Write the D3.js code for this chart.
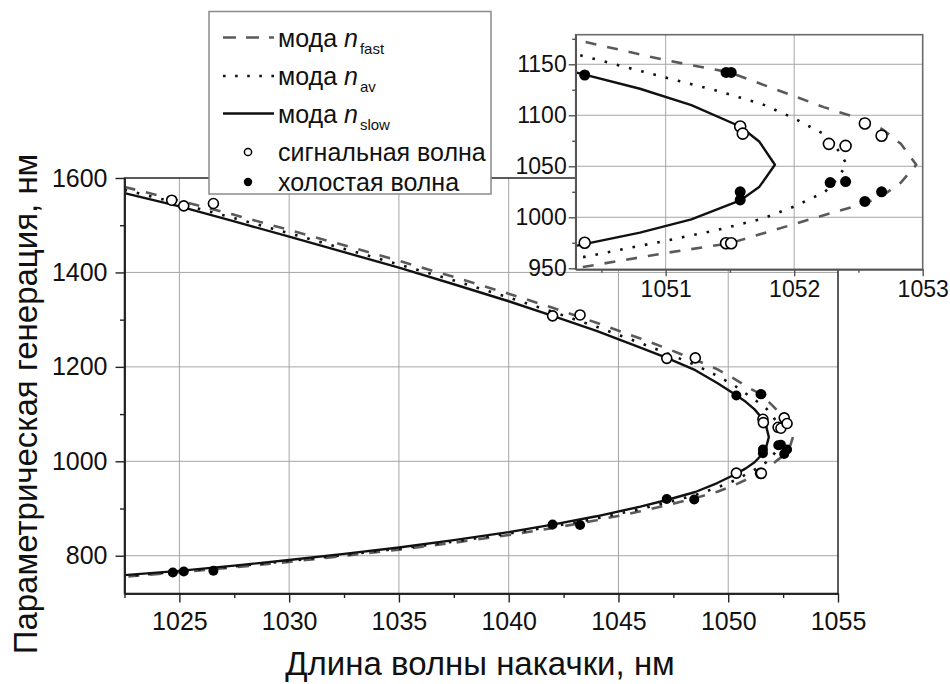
<!DOCTYPE html>
<html>
<head>
<meta charset="utf-8">
<script src="https://cdn.jsdelivr.net/npm/d3@7"></script>
<style>
  body { margin: 0; background: #fff; }
  svg { display: block; font-family: Arial, "Liberation Sans", sans-serif; }
</style>
</head>
<body>
<div id="chart"></div>
<script>
// Pump wavelength (nm) and generated wavelengths (nm)
var slowPump  = [1022.5, 1025, 1027.5, 1030, 1032.5, 1035, 1037.5, 1040, 1042, 1044, 1046, 1047.2, 1048.5, 1049.5, 1050.3, 1050.8, 1051.2, 1051.58, 1051.73];
var slowUpper = [1568, 1540, 1508, 1476, 1443, 1410, 1375, 1339, 1308, 1276, 1241, 1219, 1193, 1166, 1142, 1126, 1110, 1089, 1074];
var slowLower = [759, 768, 779, 791, 804, 817.5, 833, 850, 866, 883.5, 904, 918, 935, 954, 972, 985, 998, 1016.5, 1030];
var slowNose  = [1051.85, 1051.5];

var avPump  = [1022.5, 1025, 1027.5, 1030, 1032.5, 1035, 1037.5, 1040, 1042, 1044, 1046, 1047.2, 1048.5, 1049.5, 1050.3, 1051.0, 1051.4, 1051.75, 1052.0, 1052.24, 1052.33];
var avUpper = [1575, 1546, 1515, 1483, 1450, 1417, 1383, 1347, 1316.5, 1285, 1250.5, 1229, 1204, 1181, 1160, 1137, 1124, 1111, 1097, 1081, 1068];
var avLower = [757, 766.5, 777.5, 789, 801.5, 815, 830, 847, 862, 879, 899, 912.5, 928.5, 944.5, 959.5, 977, 987.5, 998.5, 1010.5, 1025, 1037];
var avNose  = [1052.41, 1052];

var fastPump  = [1022.5, 1025, 1027.5, 1030, 1032.5, 1035, 1037.5, 1040, 1042, 1044, 1046, 1047.2, 1048.5, 1049.5, 1050.3, 1051.0, 1051.5, 1052.23, 1052.55, 1052.69, 1052.83];
var fastUpper = [1581, 1552, 1522, 1490, 1457.5, 1424.5, 1390.5, 1355, 1325, 1293.5, 1260, 1239, 1215, 1195, 1174, 1154, 1142, 1108, 1095, 1086, 1072];
var fastLower = [755.5, 765, 775.5, 787, 799.5, 813, 827.5, 844, 858.5, 875, 894, 907, 922, 935.5, 950, 965, 974.5, 1002, 1013.5, 1021.5, 1034];
var fastNose  = [1052.95, 1051.5];

// measured points
var signalPump = [1024.65, 1025.2, 1026.55, 1042.0, 1043.25, 1047.2, 1048.5, 1050.37, 1051.47, 1051.51, 1051.58, 1051.6, 1052.27, 1052.4, 1052.55, 1052.68];
var signalWave = [1553, 1541, 1546, 1308, 1310, 1218, 1219, 975, 974.5, 974.5, 1089, 1082, 1072, 1070, 1092, 1080];
var idlerPump  = [1024.7, 1025.2, 1026.55, 1042.0, 1043.25, 1047.2, 1048.45, 1050.37, 1051.47, 1051.51, 1051.58, 1051.58, 1052.28, 1052.4, 1052.55, 1052.68];
var idlerWave  = [764.5, 766.5, 768, 866, 865, 920, 919, 1139.5, 1142, 1142, 1025, 1017, 1034, 1035, 1015.5, 1025];

// ticks
var mainXTicks = [1025, 1030, 1035, 1040, 1045, 1050, 1055];
var mainXMinor = [1022.5, 1027.5, 1032.5, 1037.5, 1042.5, 1047.5, 1052.5];
var mainYTicks = [800, 1000, 1200, 1400, 1600];
var mainYMinor = [900, 1100, 1300, 1500];
var insetXTicks = [1051, 1052, 1053];
var insetXMinor = [1050.5, 1051.5, 1052.5];
var insetYTicks = [950, 1000, 1050, 1100, 1150];
var insetYMinor = [975, 1025, 1075, 1125, 1175];

var legendLabels = ["fast", "av", "slow"];
var xTitle = "Длина волны накачки, нм";
var yTitle = "Параметрическая генерация, нм";

var svg = d3.select("#chart").append("svg")
  .attr("width", 950).attr("height", 684);

function curvePoints(pump, upper, lower, nose) {
  var pts = pump.map(function (p, i) { return [p, upper[i]]; });
  pts.push(nose);
  for (var i = pump.length - 1; i >= 0; i--) pts.push([pump[i], lower[i]]);
  return pts;
}

var curves = [
  { pts: curvePoints(fastPump, fastUpper, fastLower, fastNose), stroke: "#5a5a5a", dash: "11,11", width: 2.6 },
  { pts: curvePoints(avPump, avUpper, avLower, avNose), stroke: "#111", dash: "2.6,10", width: 2.6 },
  { pts: curvePoints(slowPump, slowUpper, slowLower, slowNose), stroke: "#111", dash: null, width: 2.4 }
];

var signal = signalPump.map(function (p, i) { return [p, signalWave[i]]; });
var idler = idlerPump.map(function (p, i) { return [p, idlerWave[i]]; });

function drawPanel(g, x, y, o) {
  var x0 = x.range()[0], x1 = x.range()[1], y0 = y.range()[0], y1 = y.range()[1];

  if (o.bg) {
    g.append("rect").attr("x", x0).attr("y", y1).attr("width", x1 - x0).attr("height", y0 - y1).attr("fill", "#fff");
  }

  // grid
  g.append("g").selectAll("line").data(o.xGrid).enter().append("line")
    .attr("x1", function (d) { return x(d); }).attr("x2", function (d) { return x(d); })
    .attr("y1", y0).attr("y2", y1)
    .attr("stroke", "#a6a6a6").attr("stroke-width", 1);
  g.append("g").selectAll("line").data(o.yGrid).enter().append("line")
    .attr("y1", function (d) { return y(d); }).attr("y2", function (d) { return y(d); })
    .attr("x1", x0).attr("x2", x1)
    .attr("stroke", "#a6a6a6").attr("stroke-width", 1);

  var clipId = o.id + "-clip";
  g.append("clipPath").attr("id", clipId).append("rect")
    .attr("x", x0).attr("y", y1).attr("width", x1 - x0).attr("height", y0 - y1);

  var line = d3.line().x(function (d) { return x(d[0]); }).y(function (d) { return y(d[1]); });
  var cg = g.append("g").attr("clip-path", "url(#" + clipId + ")");
  curves.forEach(function (c) {
    cg.append("path").attr("d", line(c.pts))
      .attr("fill", "none").attr("stroke", c.stroke)
      .attr("stroke-width", c.width)
      .attr("stroke-dasharray", c.dash)
      .attr("stroke-linejoin", "round");
  });

  cg.selectAll(".sig").data(signal).enter().append("circle")
    .attr("cx", function (d) { return x(d[0]); }).attr("cy", function (d) { return y(d[1]); })
    .attr("r", o.r).attr("fill", "#fff").attr("stroke", "#000").attr("stroke-width", 1.6);
  cg.selectAll(".idl").data(idler).enter().append("circle")
    .attr("cx", function (d) { return x(d[0]); }).attr("cy", function (d) { return y(d[1]); })
    .attr("r", o.r).attr("fill", "#000");

  // frame
  g.append("rect").attr("x", x0).attr("y", y1).attr("width", x1 - x0).attr("height", y0 - y1)
    .attr("fill", "none").attr("stroke", o.frame).attr("stroke-width", 1.6);

  // axes
  var ax = g.append("g").attr("transform", "translate(0," + y0 + ")")
    .call(d3.axisBottom(x).tickValues(o.xTicks).tickSize(o.tick).tickSizeOuter(0).tickPadding(o.xPad).tickFormat(d3.format("d")));
  var axm = g.append("g").attr("transform", "translate(0," + y0 + ")")
    .call(d3.axisBottom(x).tickValues(o.xMinor).tickSize(o.tick / 2).tickSizeOuter(0).tickFormat(""));
  var ay = g.append("g").attr("transform", "translate(" + x0 + ",0)")
    .call(d3.axisLeft(y).tickValues(o.yTicks).tickSize(o.tick).tickSizeOuter(0).tickPadding(o.yPad).tickFormat(d3.format("d")));
  var aym = g.append("g").attr("transform", "translate(" + x0 + ",0)")
    .call(d3.axisLeft(y).tickValues(o.yMinor).tickSize(o.tick / 2).tickSizeOuter(0).tickFormat(""));

  [ax, axm, ay, aym].forEach(function (a) {
    a.select(".domain").attr("stroke", o.axis).attr("stroke-width", 1.6);
    a.selectAll(".tick line").attr("stroke", o.axis).attr("stroke-width", 1.4);
    a.selectAll("text").attr("font-size", o.font).attr("fill", "#111")
      .attr("font-family", "Arial, 'Liberation Sans', sans-serif");
  });
}

// main chart
var x = d3.scaleLinear().domain([1022.5, 1055]).range([124.5, 838]);
var y = d3.scaleLinear().domain([720, 1600]).range([593.5, 178]);
drawPanel(svg.append("g"), x, y, {
  id: "main", bg: false, r: 5, frame: "#333", axis: "#222", tick: 9, font: 25, xPad: 10, yPad: 8,
  xGrid: mainXTicks.slice(0, -1), yGrid: mainYTicks.slice(0, -1),
  xTicks: mainXTicks, xMinor: mainXMinor, yTicks: mainYTicks, yMinor: mainYMinor
});

// inset
var xi = d3.scaleLinear().domain([1050.3, 1053]).range([575.7, 922.7]);
var yi = d3.scaleLinear().domain([949, 1179]).range([269.3, 34.7]);
drawPanel(svg.append("g"), xi, yi, {
  id: "inset", bg: true, r: 5.5, frame: "#6a6a6a", axis: "#555", tick: 7, font: 23, xPad: 4, yPad: 2,
  xGrid: insetXTicks.slice(0, -1), yGrid: insetYTicks.slice(1),
  xTicks: insetXTicks, xMinor: insetXMinor, yTicks: insetYTicks, yMinor: insetYMinor
});

// axis titles
svg.append("text").attr("x", 480).attr("y", 675).attr("text-anchor", "middle")
  .attr("font-size", 33).attr("fill", "#111").text(xTitle);
svg.append("text").attr("transform", "translate(37,404) rotate(-90)").attr("text-anchor", "middle")
  .attr("font-size", 33).attr("fill", "#111").text(yTitle);

// legend
var lg = svg.append("g");
lg.append("rect").attr("x", 209).attr("y", 11.5).attr("width", 282).attr("height", 182.5)
  .attr("fill", "#fff").attr("stroke", "#8a8a8a").attr("stroke-width", 1.5);

var rowY = [37.5, 76, 113.5, 152, 182];
curves.forEach(function (c, i) {
  lg.append("line").attr("x1", 223).attr("x2", 274).attr("y1", rowY[i]).attr("y2", rowY[i])
    .attr("stroke", c.stroke).attr("stroke-width", c.width)
    .attr("stroke-dasharray", i === 0 ? "13,10" : (i === 1 ? "2.6,9.5" : null));
  var t = lg.append("text").attr("x", 278).attr("y", rowY[i] + 9).attr("font-size", 25).attr("fill", "#111");
  t.append("tspan").text("мода ");
  t.append("tspan").attr("font-style", "italic").text("n");
  t.append("tspan").attr("font-size", 15).attr("dx", 2).attr("dy", 7).text(legendLabels[i]);
});
lg.append("circle").attr("cx", 248).attr("cy", rowY[3]).attr("r", 3.6)
  .attr("fill", "#fff").attr("stroke", "#000").attr("stroke-width", 1.5);
lg.append("text").attr("x", 278).attr("y", rowY[3] + 9).attr("font-size", 25).attr("fill", "#111").text("сигнальная волна");
lg.append("circle").attr("cx", 248).attr("cy", rowY[4]).attr("r", 4.2).attr("fill", "#000");
lg.append("text").attr("x", 278).attr("y", rowY[4] + 9).attr("font-size", 25).attr("fill", "#111").text("холостая волна");
</script>
</body>
</html>
